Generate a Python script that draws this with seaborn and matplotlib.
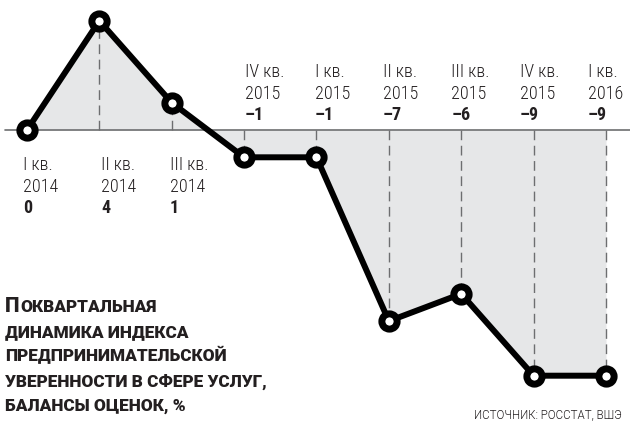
import numpy as np
import pandas as pd
import matplotlib
matplotlib.use('Agg')
import matplotlib.pyplot as plt
import seaborn as sns
from matplotlib import font_manager
from matplotlib.font_manager import FontProperties

quarters = ['I кв.', 'II кв.', 'III кв.', 'IV кв.', 'I кв.', 'II кв.', 'III кв.', 'IV кв.', 'I кв.']
years = ['2014', '2014', '2014', '2015', '2015', '2015', '2015', '2015', '2016']
values = [0, 4, 1, -1, -1, -7, -6, -9, -9]
value_labels = ['0', '4', '1', '–1', '–1', '–7', '–6', '–9', '–9']
title_lines = ['ПОКВАРТАЛЬНАЯ', 'ДИНАМИКА ИНДЕКСА', 'ПРЕДПРИНИМАТЕЛЬСКОЙ',
               'УВЕРЕННОСТИ В СФЕРЕ УСЛУГ,', 'БАЛАНСЫ ОЦЕНОК, %']
source_text = 'ИСТОЧНИК: РОССТАТ, ВШЭ'

# horizontal nudge of each label block, in pixels from its point
label_shift = [-4, 2, -2, 1, -2, -6, -10, -14, -18]

sns.set_style('white')


def find_font(candidates):
    # Pick first installed font file out of the candidates list
    files = {f.fname.split('/')[-1]: f.fname for f in font_manager.fontManager.ttflist}
    for c in candidates:
        if c in files:
            return FontProperties(fname=files[c])
    return FontProperties(family='DejaVu Sans', stretch='condensed')


f_reg = find_font(['RobotoCondensed-Light.ttf', 'RobotoCondensed-Regular.ttf',
                   'DejaVuSansCondensed.ttf'])
f_bold = find_font(['RobotoCondensed-Bold.ttf', 'DejaVuSansCondensed-Bold.ttf'])
f_black = find_font(['Roboto-Black.ttf', 'Roboto-ExtraBold.ttf', 'Roboto-Bold.ttf',
                     'RobotoCondensed-Black.ttf', 'DejaVuSans-Bold.ttf'])
f_src = find_font(['Roboto-Light.ttf', 'Roboto-Regular.ttf', 'RobotoCondensed-Regular.ttf'])

df = pd.DataFrame({'x': np.arange(len(values)), 'value': values})

fig = plt.figure(figsize=(6.3, 4.38), dpi=100)
ax = fig.add_axes([0, 0, 1, 1])
px_x = 72.4
px_y = 27.3
ax.set_xlim(-27 / px_x, 8 + 24 / px_x)
ax.set_ylim(-(438 - 130) / px_y, 130 / px_y)
ax.axis('off')

# shaded area between line and zero
ax.fill_between(df['x'], df['value'], 0, color='#e6e7e8', zorder=1, linewidth=0)
ax.plot([-22 / px_x, 8 + 24 / px_x], [0, 0], color='#6d6e70', lw=1.2, zorder=2)

# dashed drop lines
for xi, v in zip(df['x'], df['value']):
    if v != 0:
        ax.plot([xi, xi], [0, v], color='#6d6e70', lw=1, dashes=(7, 4), zorder=2)

sns.lineplot(data=df, x='x', y='value', ax=ax, color='black', lw=4.3,
             marker='o', markersize=11, markerfacecolor='white',
             markeredgecolor='black', markeredgewidth=5, zorder=5)
ax.set_xlabel('')
ax.set_ylabel('')

# labels
for xi, v, q, yr, vl, sh in zip(df['x'], df['value'], quarters, years, value_labels, label_shift):
    lx = xi + sh / px_x
    if v >= 0:
        ys = [-35, -57, -78]
    else:
        ys = [58, 36, 15]
    ax.text(lx, ys[0] / px_y, q, fontproperties=f_reg, fontsize=13, ha='left', va='center',
            color='#231f20')
    ax.text(lx, ys[1] / px_y, yr, fontproperties=f_reg, fontsize=13, ha='left', va='center',
            color='#231f20')
    ax.text(lx, ys[2] / px_y, vl, fontproperties=f_bold, fontsize=13, ha='left', va='center',
            color='#231f20')

# title, small caps look with a larger first letter
fig.canvas.draw()
renderer = fig.canvas.get_renderer()
probe = ax.text(0, 0, title_lines[2], fontproperties=f_black, fontsize=10)
w10 = probe.get_window_extent(renderer).width
probe.remove()
title_size = 10 * 221 / w10
for i, line in enumerate(title_lines):
    y = -(312 + i * 24.8 - 130) / px_y
    x0 = -22 / px_x
    body = line
    if i == 0:
        cap = ax.text(x0, y, line[0], fontproperties=f_black, fontsize=title_size * 1.2,
                      ha='left', va='baseline', color='#231f20')
        ext = cap.get_window_extent(renderer)
        x0 = ax.transData.inverted().transform((ext.x1 + 0.5, 0))[0]
        body = line[1:]
    ax.text(x0, y, body, fontproperties=f_black, fontsize=title_size, ha='left',
            va='baseline', color='#231f20')

ax.text(8 + 16 / px_x, -(418 - 130) / px_y, source_text, fontproperties=f_src, fontsize=8.3,
        ha='right', va='baseline', color='#231f20')

fig.savefig('out.png', dpi=100)
